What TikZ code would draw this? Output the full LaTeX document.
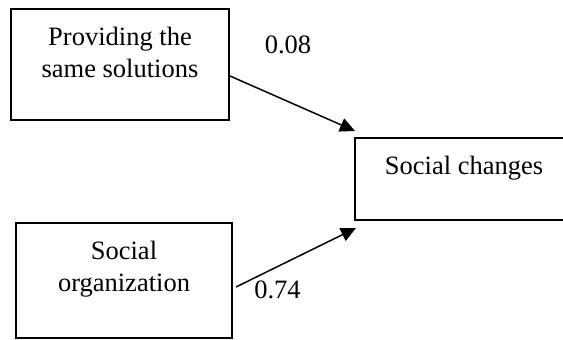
\documentclass[tikz,border=0pt]{standalone}
\usepackage{fontspec}
\setmainfont{Liberation Serif}
\usetikzlibrary{arrows.meta}

\newcommand{\boxtext}[3]{\parbox[c][#2][t]{#1}{\centering\vspace*{9pt}#3}}

\begin{document}
\begin{tikzpicture}[x=0.5pt,y=-0.5pt,
		font=\fontsize{13.25pt}{16pt}\selectfont,
		box/.style={draw,line width=1pt,inner sep=0pt},
		link/.style={-{Triangle[length=7.5pt,width=7pt]},line width=0.75pt}]
		\clip (0,0) rectangle (563,339);
		\node[box] (sol) at (120,64.5) {\boxtext{109pt}{55.5pt}{Providing the\\same solutions}};
		\node[box] (chg) at (464,179) {\boxtext{109pt}{41pt}{Social changes}};
		\node[box] (org) at (124,280.5) {\boxtext{108pt}{57.5pt}{Social\\organization}};
		\node (w1) at (288,44.5) {0.08};
		\node (w2) at (277.5,290) {0.74};
		\draw[link] ([yshift=-5.75pt]sol.east) -- ([shift={(1,-6)}]chg.north west);
		\draw[link] ([shift={(3,6.5)}]org.east) -- ([shift={(2,7)}]chg.south west);
	\end{tikzpicture}
\end{document}
